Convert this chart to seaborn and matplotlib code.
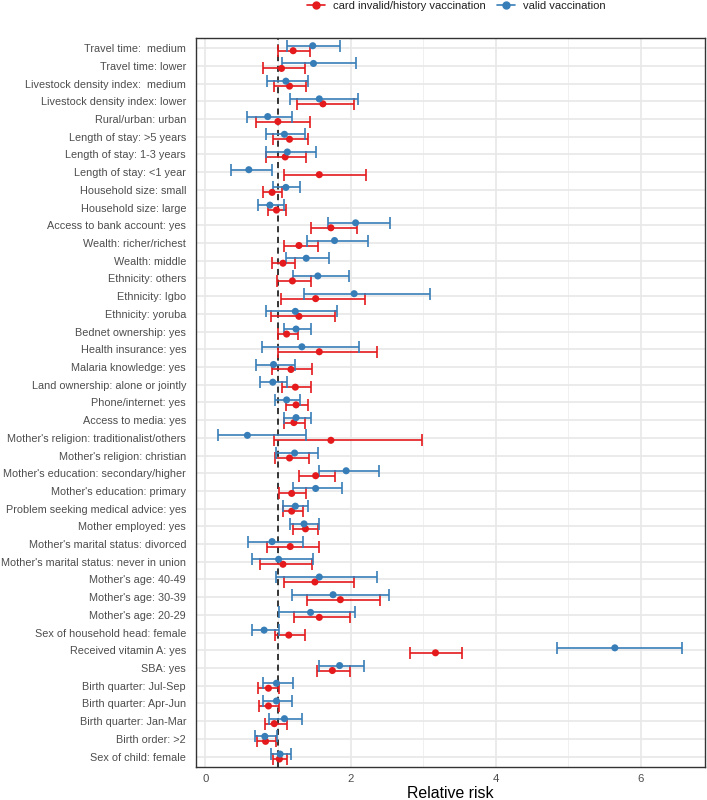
import matplotlib
matplotlib.use("Agg")
import matplotlib.pyplot as plt
import seaborn as sns
import pandas as pd
import numpy as np
from matplotlib.lines import Line2D

categories = [
    "Travel time:  medium", "Travel time: lower", "Livestock density index:  medium",
    "Livestock density index: lower", "Rural/urban: urban", "Length of stay: >5 years",
    "Length of stay: 1-3 years", "Length of stay: <1 year", "Household size: small",
    "Household size: large", "Access to bank account: yes", "Wealth: richer/richest",
    "Wealth: middle", "Ethnicity: others", "Ethnicity: Igbo", "Ethnicity: yoruba",
    "Bednet ownership: yes", "Health insurance: yes", "Malaria knowledge: yes",
    "Land ownership: alone or jointly", "Phone/internet: yes", "Access to media: yes",
    "Mother's religion: traditionalist/others", "Mother's religion: christian",
    "Mother's education: secondary/higher", "Mother's education: primary",
    "Problem seeking medical advice: yes", "Mother employed: yes",
    "Mother's marital status: divorced", "Mother's marital status: never in union",
    "Mother's age: 40-49", "Mother's age: 30-39", "Mother's age: 20-29",
    "Sex of household head: female", "Received vitamin A: yes", "SBA: yes",
    "Birth quarter: Jul-Sep", "Birth quarter: Apr-Jun", "Birth quarter: Jan-Mar",
    "Birth order: >2", "Sex of child: female",
]

valid_rr = [1.48, 1.49, 1.11, 1.57, 0.86, 1.09, 1.13, 0.60, 1.11, 0.89, 2.07, 1.78, 1.39,
            1.55, 2.05, 1.24, 1.25, 1.33, 0.94, 0.93, 1.12, 1.25, 0.58, 1.23, 1.94, 1.52,
            1.24, 1.36, 0.92, 1.01, 1.57, 1.76, 1.45, 0.81, 5.64, 1.85, 0.98, 0.98, 1.09,
            0.82, 1.03]
valid_lo = [1.13, 1.05, 0.85, 1.16, 0.58, 0.84, 0.84, 0.36, 0.93, 0.73, 1.69, 1.40, 1.11,
            1.21, 1.36, 0.84, 1.08, 0.78, 0.70, 0.76, 0.96, 1.08, 0.18, 0.97, 1.56, 1.21,
            1.07, 1.16, 0.59, 0.64, 0.98, 1.20, 1.02, 0.64, 4.84, 1.57, 0.79, 0.79, 0.88,
            0.69, 0.91]
valid_hi = [1.85, 2.08, 1.42, 2.10, 1.20, 1.38, 1.52, 0.92, 1.31, 1.08, 2.54, 2.24, 1.70,
            1.98, 3.10, 1.81, 1.45, 2.12, 1.23, 1.13, 1.31, 1.46, 1.39, 1.55, 2.39, 1.88,
            1.42, 1.57, 1.34, 1.49, 2.37, 2.53, 2.06, 1.02, 6.56, 2.19, 1.21, 1.20, 1.33,
            0.99, 1.18]

card_rr = [1.21, 1.05, 1.16, 1.62, 1.00, 1.16, 1.10, 1.57, 0.92, 0.98, 1.73, 1.29, 1.07,
           1.20, 1.52, 1.29, 1.12, 1.57, 1.18, 1.24, 1.25, 1.22, 1.73, 1.16, 1.52, 1.19,
           1.19, 1.38, 1.17, 1.07, 1.51, 1.86, 1.57, 1.15, 3.17, 1.75, 0.87, 0.87, 0.95,
           0.83, 1.02]
card_lo = [1.00, 0.79, 0.95, 1.26, 0.70, 0.93, 0.84, 1.09, 0.80, 0.86, 1.45, 1.09, 0.92,
           0.99, 1.04, 0.91, 1.00, 1.00, 0.92, 1.05, 1.11, 1.08, 0.94, 0.96, 1.29, 1.02,
           1.07, 1.21, 0.85, 0.76, 1.08, 1.40, 1.22, 0.96, 2.82, 1.54, 0.73, 0.74, 0.82,
           0.71, 0.93]
card_hi = [1.44, 1.37, 1.39, 2.05, 1.44, 1.42, 1.39, 2.21, 1.05, 1.11, 2.09, 1.55, 1.23,
           1.45, 2.20, 1.79, 1.27, 2.37, 1.47, 1.45, 1.42, 1.37, 2.98, 1.43, 1.78, 1.39,
           1.34, 1.55, 1.56, 1.47, 2.05, 2.41, 1.99, 1.38, 3.54, 1.99, 1.02, 1.02, 1.12,
           0.97, 1.13]

series_names = ["card invalid/history vaccination", "valid vaccination"]
series_colors = {"card invalid/history vaccination": "#E41A1C", "valid vaccination": "#377EB8"}
x_ticks = [0, 2, 4, 6]

rows = []
for i, c in enumerate(categories):
    rows.append(dict(cat=c, idx=i, series=series_names[0], rr=card_rr[i], lo=card_lo[i], hi=card_hi[i]))
    rows.append(dict(cat=c, idx=i, series=series_names[1], rr=valid_rr[i], lo=valid_lo[i], hi=valid_hi[i]))
df = pd.DataFrame(rows)
offset = {series_names[0]: 0.14, series_names[1]: -0.14}
df["ypos"] = df["idx"] + df["series"].map(offset)

sns.set_theme(style="whitegrid")
plt.rcParams["font.family"] = ["Liberation Sans", "DejaVu Sans"]

fig = plt.figure(figsize=(7.07, 8.0), dpi=100)
ax = fig.add_axes([0.277, 0.041, 0.72, 0.912])

ax.set_axisbelow(True)
for s in series_names:
    sub = df[df["series"] == s]
    ax.errorbar(sub["rr"], sub["ypos"], xerr=[sub["rr"] - sub["lo"], sub["hi"] - sub["rr"]],
                fmt="none", ecolor=series_colors[s], elinewidth=1.2, capsize=4.2,
                capthick=1.2, zorder=3)
sns.scatterplot(data=df, x="rr", y="ypos", hue="series", palette=series_colors,
                hue_order=series_names, s=26, edgecolor="none", ax=ax, legend=False, zorder=4)

ax.axvline(1, color="black", linestyle=(0, (4, 3)), linewidth=1.1, zorder=2)

ax.set_xlim(-0.13, 6.88)
ax.set_ylim(len(categories) - 0.4, -0.6)
ax.set_xticks(x_ticks)
ax.set_xticks([1, 3, 5], minor=True)
ax.set_yticks(range(len(categories)))
ax.set_yticklabels(categories)
ax.grid(which="major", color="#E8E8E8", linewidth=1.2)
ax.grid(which="minor", axis="x", color="#F0F0F0", linewidth=0.7)
ax.tick_params(axis="x", which="both", length=0, labelsize=8.2, labelcolor="#4D4D4D", pad=5)
ax.tick_params(axis="y", which="both", length=0, labelsize=7.85, labelcolor="#4D4D4D", pad=7)
for sp in ax.spines.values():
    sp.set_color("#333333")
    sp.set_linewidth(1.0)
ax.set_xlabel("Relative risk", fontsize=11.4, color="black", labelpad=1)
ax.set_ylabel("")

handles = [Line2D([0], [0], color=series_colors[s], marker="o", markersize=5, linewidth=1.2)
           for s in series_names]
fig.legend(handles, series_names, loc="upper center", bbox_to_anchor=(0.645, 1.012), ncol=2,
           frameon=False, fontsize=8.1, handlelength=1.6, columnspacing=1.0, handletextpad=0.7,
           labelcolor="#222222")

fig.savefig("out.png", dpi=100)
